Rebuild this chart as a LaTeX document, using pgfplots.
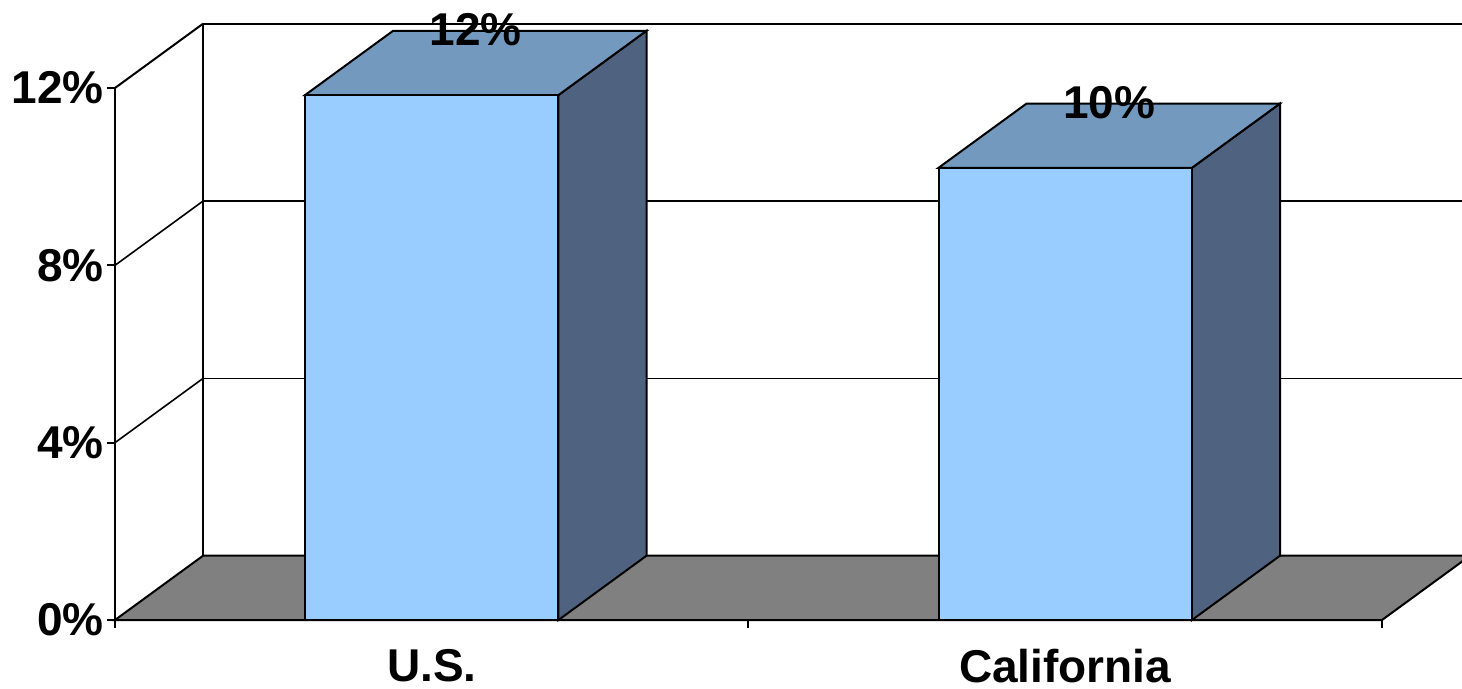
\documentclass[border=0pt]{standalone}
\usepackage{fontspec}
\setmainfont{Liberation Sans}
\usepackage{pgfplots}
\pgfplotsset{compat=1.18}
\definecolor{barfront}{RGB}{153,204,255}
\definecolor{bartop}{RGB}{115,154,190}
\definecolor{barside}{RGB}{79,99,128}
\definecolor{floorgray}{RGB}{128,128,128}
\newcommand{\bigfont}{\fontsize{23}{27}\selectfont\bfseries}
\begin{document}
\begin{tikzpicture}
\begin{axis}[
  scale only axis, width=633.5pt, height=266pt,
  xmin=0, xmax=2, ymin=0, ymax=12, clip=false,
  axis x line*=bottom, axis y line*=left,
  axis line style={line width=1pt, -},
  ytick={0,4,8,12}, yticklabels={0\%,4\%,8\%,12\%},
  xtick={0,1,2}, xticklabels={},
  extra x ticks={0.5,1.5}, extra x tick labels={U.S.,California},
  extra x tick style={major tick length=0pt, xticklabel style={inner sep=0pt, yshift=-14.5pt}},
  tick align=outside, tick style={black, line width=1pt},
  major tick length=4pt,
  tick label style={font=\bigfont, text=black},
  yticklabel style={inner sep=1.5pt},
]
% back wall gridlines
\addplot[black, line width=0.8pt] coordinates {(0.139,5.45) (2.3,5.45)};
\addplot[black, line width=0.8pt] coordinates {(0.139,9.45) (2.3,9.45)};
\addplot[black, line width=1pt] coordinates {(0.139,13.45) (2.3,13.45)};
% left wall
\addplot[black, line width=1pt] coordinates {(0.139,1.45) (0.139,13.45)};
\addplot[black, line width=0.8pt] coordinates {(0,4) (0.139,5.45)};
\addplot[black, line width=0.8pt] coordinates {(0,8) (0.139,9.45)};
\addplot[black, line width=1pt] coordinates {(0,12) (0.139,13.45)};
% floor
\addplot[fill=floorgray, draw=black, line width=1pt] coordinates {(0,0) (2,0) (2.139,1.45) (0.139,1.45)} --cycle;
% bar sides
\addplot[fill=barside, draw=black, line width=1pt] coordinates {(0.7,0) (0.839,1.45) (0.839,13.29) (0.7,11.84)} --cycle;
\addplot[fill=barside, draw=black, line width=1pt] coordinates {(1.7,0) (1.839,1.45) (1.839,11.65) (1.7,10.2)} --cycle;
% bar tops
\addplot[fill=bartop, draw=black, line width=1pt] coordinates {(0.3,11.84) (0.7,11.84) (0.839,13.29) (0.439,13.29)} --cycle;
\addplot[fill=bartop, draw=black, line width=1pt] coordinates {(1.3,10.2) (1.7,10.2) (1.839,11.65) (1.439,11.65)} --cycle;
% bar fronts
\addplot[ybar, bar width=0.4, fill=barfront, draw=black, line width=1pt,
  nodes near coords={\pgfmathprintnumber[fixed,precision=0,assume math mode=true]{\pgfplotspointmeta}\%},
  nodes near coords style={font=\bigfont, text=black, anchor=base, xshift=22pt, yshift=24.75pt}]
  coordinates {(0.5,11.84) (1.5,10.2)};
\coordinate (BBsw) at (axis cs:-0.1815,-1.534);
\coordinate (BBne) at (axis cs:2.1263,13.985);
\end{axis}
\pgfresetboundingbox
\path[use as bounding box] (BBsw) rectangle (BBne);
\end{tikzpicture}
\end{document}
